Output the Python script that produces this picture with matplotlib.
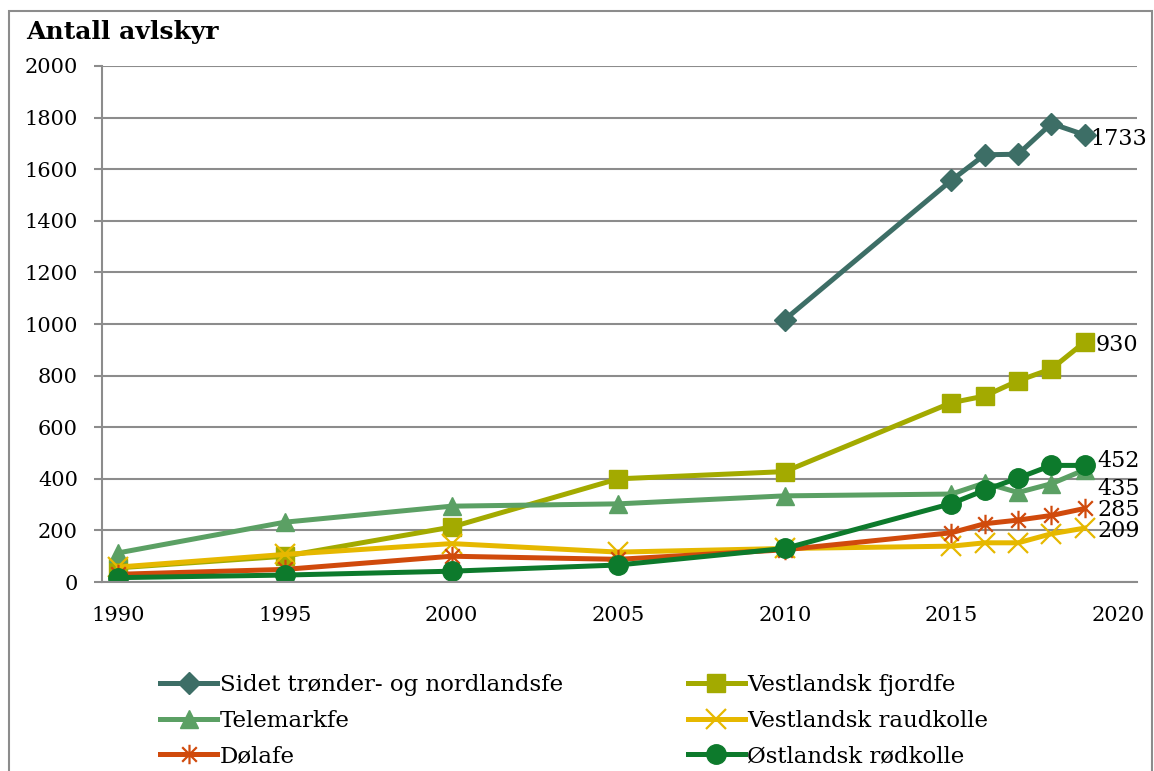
import numpy as np
import matplotlib
matplotlib.use("Agg")
import matplotlib.pyplot as plt
from matplotlib.path import Path
from matplotlib.patches import Rectangle

plt.rcParams['font.family'] = ['DejaVu Serif']

# data
years = [1990, 1995, 2000, 2005, 2010, 2015, 2016, 2017, 2018, 2019]
years_sidet = [2010, 2015, 2016, 2017, 2018, 2019]

sidet = [1017, 1557, 1656, 1658, 1777, 1733]
fjordfe = [55, 100, 213, 400, 428, 695, 721, 780, 826, 930]
telemark = [113, 232, 294, 303, 334, 341, 384, 347, 381, 435]
raudkolle = [58, 107, 149, 116, 130, 139, 152, 152, 187, 209]
dolafe = [30, 49, 100, 88, 125, 191, 226, 240, 258, 285]
ostland = [17, 27, 42, 66, 130, 304, 356, 403, 452, 452]

names = ["Sidet trønder- og nordlandsfe", "Vestlandsk fjordfe", "Telemarkfe",
         "Vestlandsk raudkolle", "Dølafe", "Østlandsk rødkolle"]
end_labels = ["1733", "930", "435", "209", "285", "452"]

# asterisk marker like the Excel star
star = Path([(0, -1), (0, 1), (-0.75, -0.75), (0.75, 0.75), (-0.75, 0.75), (0.75, -0.75)],
            [Path.MOVETO, Path.LINETO, Path.MOVETO, Path.LINETO, Path.MOVETO, Path.LINETO])

fig = plt.figure(figsize=(11.54, 7.71), dpi=100)
ax = fig.add_axes([0.0881, 0.2451, 0.8969, 0.6693])

lw = 3.6
h_sidet, = ax.plot(years_sidet, sidet, color='#3D6E66', lw=lw, marker='D', ms=11)
h_fjord, = ax.plot(years, fjordfe, color='#A3AA00', lw=lw, marker='s', ms=13)
h_tele, = ax.plot(years, telemark, color='#5BA064', lw=lw, marker='^', ms=13)
h_raud, = ax.plot(years, raudkolle, color='#E6B800', lw=lw, marker='x', ms=14, mew=1.6)
h_dola, = ax.plot(years, dolafe, color='#D04A0C', lw=lw, marker=star, ms=14, mew=1.6)
h_ost, = ax.plot(years, ostland, color='#0D7A2C', lw=lw, marker='o', ms=14)

# value labels at the last point
lab_font = 16
ax.annotate(end_labels[0], (years_sidet[-1], sidet[-1]), xytext=(4, -3), textcoords='offset points',
            ha='left', va='center', fontsize=lab_font)
ax.annotate(end_labels[1], (years[-1], fjordfe[-1]), xytext=(8, -2), textcoords='offset points',
            ha='left', va='center', fontsize=lab_font)
ax.annotate(end_labels[5], (years[-1], ostland[-1]), xytext=(9, 3), textcoords='offset points',
            ha='left', va='center', fontsize=lab_font)
ax.annotate(end_labels[2], (years[-1], telemark[-1]), xytext=(9, -14), textcoords='offset points',
            ha='left', va='center', fontsize=lab_font)
ax.annotate(end_labels[4], (years[-1], dolafe[-1]), xytext=(9, -1), textcoords='offset points',
            ha='left', va='center', fontsize=lab_font)
ax.annotate(end_labels[3], (years[-1], raudkolle[-1]), xytext=(9, -2), textcoords='offset points',
            ha='left', va='center', fontsize=lab_font)

ax.set_xlim(1989.5, 2020.56)
ax.set_ylim(0, 2000)
ax.set_xticks(range(1990, 2021, 5))
ax.set_yticks(range(0, 2001, 200))
ax.grid(axis='y', color='#8C8C8C', lw=1.5)
ax.set_axisbelow(True)
for s in ['top', 'right']:
    ax.spines[s].set_visible(False)
ax.spines['left'].set_color('#8C8C8C')
ax.spines['left'].set_linewidth(1.5)
ax.spines['bottom'].set_color('#8C8C8C')
ax.spines['bottom'].set_linewidth(1.5)
ax.tick_params(axis='y', length=6, width=1.5, color='#8C8C8C', pad=11, labelsize=15)
ax.tick_params(axis='x', length=0, pad=17, labelsize=15)

fig.text(26 / 1154, 1 - 32 / 771, "Antall avlskyr", ha='left', va='center',
         fontsize=18, fontweight='bold')

handles = [h_sidet, h_tele, h_dola, h_fjord, h_raud, h_ost]
labels = [names[0], names[2], names[4], names[1], names[3], names[5]]
fig.legend(handles, labels, ncol=2, loc='upper left', bbox_to_anchor=(160 / 1154, 1 - 674 / 771),
           frameon=False, fontsize=16.5, handlelength=2.5, handletextpad=0.1,
           columnspacing=5.45, labelspacing=0.6, borderpad=0, borderaxespad=0)

fig.patches.append(Rectangle((9 / 1154, -0.05), 1143 / 1154, 1.05 - 11 / 771,
                             transform=fig.transFigure, fill=False, ec='#8C8C8C', lw=1.5))

fig.savefig("out.png", dpi=100)
